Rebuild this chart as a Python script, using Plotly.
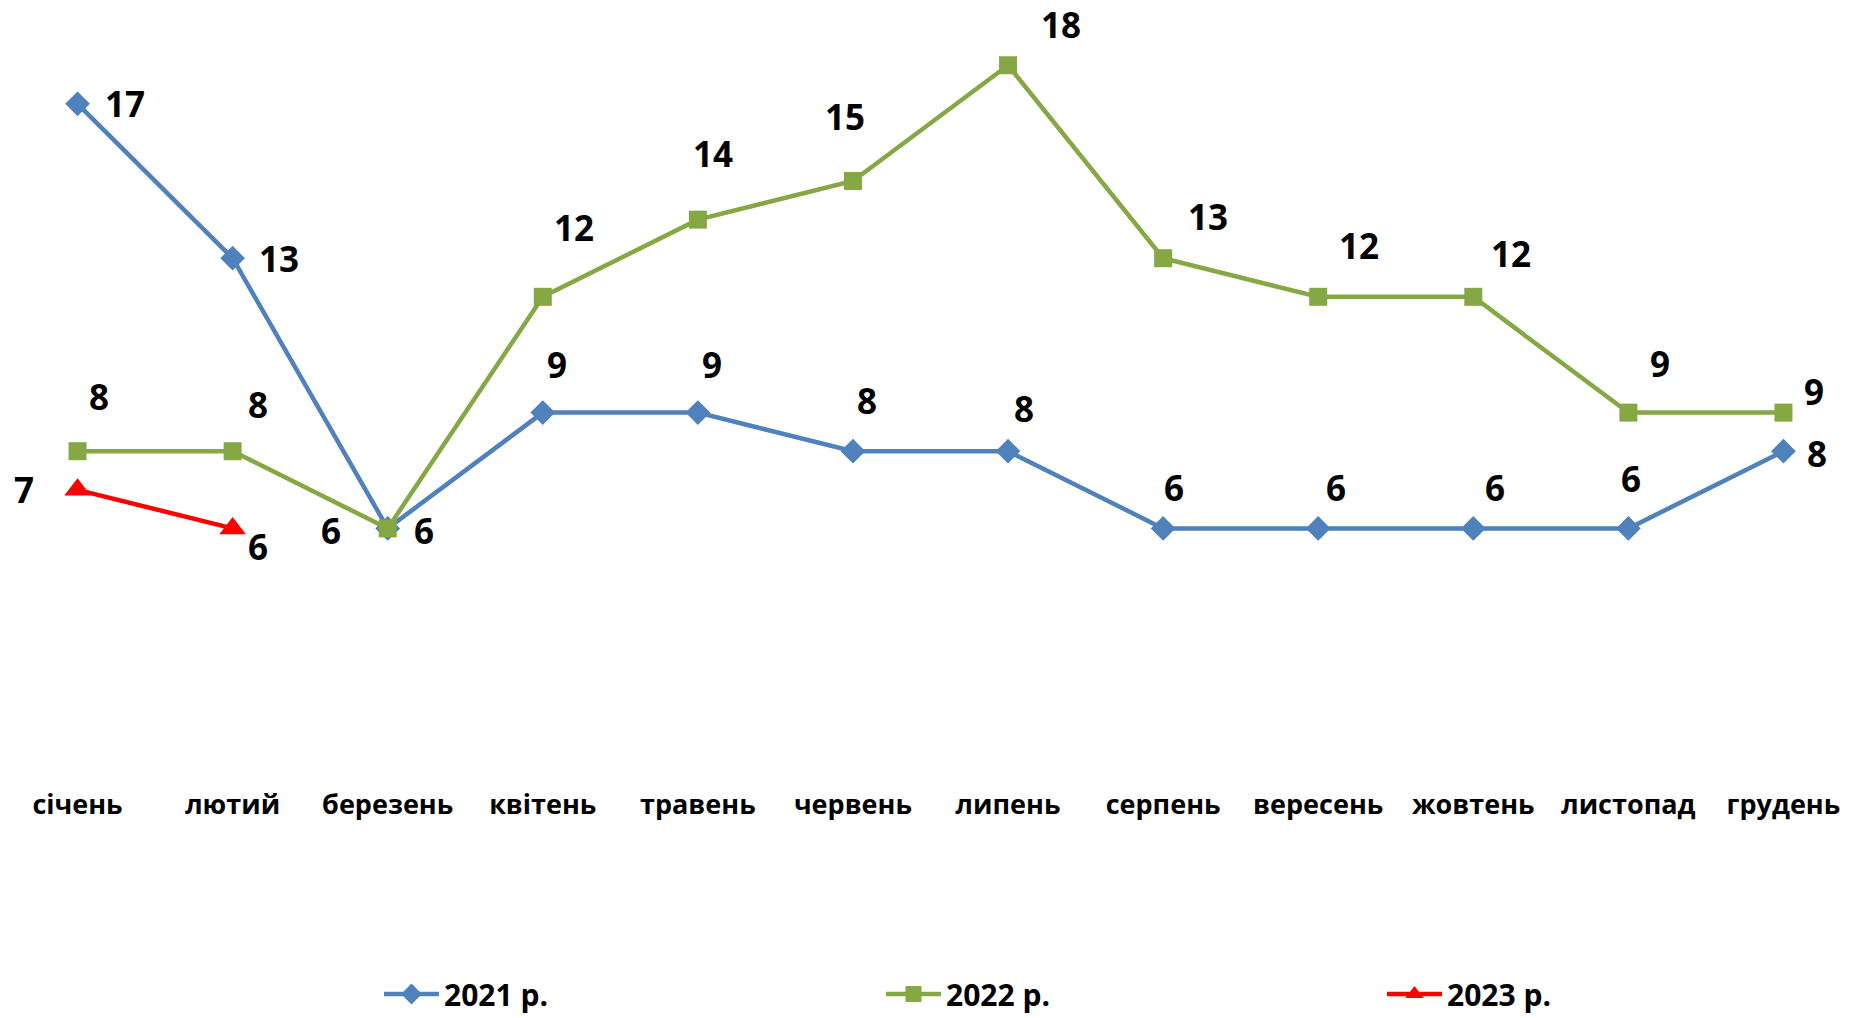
import plotly.graph_objects as go

months = ["січень", "лютий", "березень", "квітень", "травень", "червень",
          "липень", "серпень", "вересень", "жовтень", "листопад", "грудень"]
s2021 = [17, 13, 6, 9, 9, 8, 8, 6, 6, 6, 6, 8]
s2022 = [8, 8, 6, 12, 14, 15, 18, 13, 12, 12, 9, 9]
s2023 = [7, 6]
names = ["2021 р.", "2022 р.", "2023 р."]

# label offsets in pixels (dx, dy up)
off2021 = [(47, 0), (46, 0), (36, -2), (14, 48), (14, 48), (14, 51), (16, 43),
           (11, 41), (18, 41), (22, 41), (3, 50), (34, -2)]
off2022 = [(21, 55), (25, 47), (-57, -2), (31, 69), (15, 66), (-8, 65), (53, 41),
           (45, 42), (41, 51), (38, 43), (32, 49), (31, 21)]
off2023 = [(-54, 0), (25, -18)]

BLUE = "#4F81BD"
GREEN = "#86A844"
RED = "#FF0000"
FONT = "Open Sans"

fig = go.Figure()
fig.add_trace(go.Scatter(x=months, y=s2021, name=names[0], mode="lines+markers",
                         legend="legend",
                         line=dict(color=BLUE, width=4.5),
                         marker=dict(symbol="diamond", size=19, color=BLUE)))
fig.add_trace(go.Scatter(x=months, y=s2022, name=names[1], mode="lines+markers",
                         legend="legend2",
                         line=dict(color=GREEN, width=4.5),
                         marker=dict(symbol="square", size=18, color=GREEN)))
fig.add_trace(go.Scatter(x=months[:len(s2023)], y=s2023, name=names[2], mode="lines+markers",
                         legend="legend3",
                         line=dict(color=RED, width=4.5),
                         marker=dict(symbol="triangle-up", size=23, color=RED)))

for series, offs in ((s2021, off2021), (s2022, off2022), (s2023, off2023)):
    for m, v, (dx, dy) in zip(months, series, offs):
        fig.add_annotation(x=m, y=v, text=str(v), showarrow=False,
                           xshift=dx, yshift=dy,
                           font=dict(family=FONT, size=35, color="black", weight="bold"))

W, H = 1861, 1018
leg_common = dict(orientation="h", xanchor="left", yref="container",
                  y=1 - 994 / H, yanchor="middle",
                  font=dict(family=FONT, size=30, color="black", weight="bold"),
                  itemwidth=55, bgcolor="rgba(0,0,0,0)")

fig.update_layout(
    width=W, height=H,
    margin=dict(l=0, r=0, t=0, b=258),
    paper_bgcolor="white", plot_bgcolor="white",
    showlegend=True,
    legend=dict(x=379 / W, **leg_common),
    legend2=dict(x=881 / W, **leg_common),
    legend3=dict(x=1382 / W, **leg_common),
    xaxis=dict(range=[-0.5, 11.5], showgrid=False, zeroline=False, showline=False,
               ticks="", ticklabelstandoff=26,
               tickfont=dict(family=FONT, size=27, color="black", weight="bold")),
    yaxis=dict(range=[0, 19.69], showgrid=False, zeroline=False, showline=False,
               showticklabels=False, ticks=""),
)

fig.write_html("out.html", config={"displayModeBar": False},
               post_script="document.body.style.margin='0';")
